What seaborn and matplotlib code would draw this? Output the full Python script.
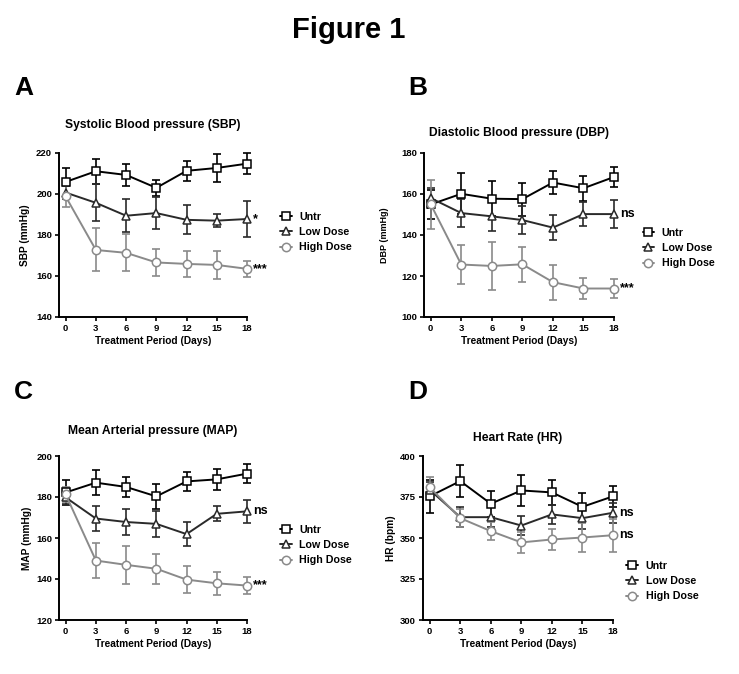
import numpy as np
import pandas as pd
import matplotlib
matplotlib.use("Agg")
import matplotlib.pyplot as plt
import seaborn as sns

# days of treatment
days = [0, 3, 6, 9, 12, 15, 18]
groups = ["Untr", "Low Dose", "High Dose"]

# SBP mean / SEM
sbp_untr = [205.9, 211.1, 209.3, 203.0, 211.3, 212.7, 214.8]
sbp_untr_err = [7, 6, 5.3, 4, 5, 7, 5]
sbp_low = [200.7, 195.7, 189.4, 190.7, 187.4, 187.0, 187.8]
sbp_low_err = [3, 9, 8, 8, 7, 3, 9]
sbp_high = [198.8, 172.7, 171.3, 166.6, 165.9, 165.4, 163.5]
sbp_high_err = [5, 10.5, 9, 6.5, 6.5, 7, 4]

# DBP mean / SEM
dbp_untr = [154.9, 160.1, 157.7, 157.5, 165.6, 162.8, 168.3]
dbp_untr_err = [7, 10, 8.5, 8, 5.5, 6, 5]
dbp_low = [158.0, 150.7, 149.1, 147.3, 143.6, 150.2, 150.2]
dbp_low_err = [5, 7, 7, 7, 6, 6, 7]
dbp_high = [155.0, 125.6, 124.9, 125.7, 117.0, 113.9, 113.9]
dbp_high_err = [12, 9.5, 11.5, 8.5, 8.5, 5, 4.5]

# MAP mean / SEM
map_untr = [182.2, 187.0, 184.9, 180.3, 187.6, 188.6, 191.4]
map_untr_err = [6, 6, 5, 6, 4.7, 5, 4.7]
map_low = [179.8, 169.5, 167.8, 166.9, 161.9, 171.8, 173.0]
map_low_err = [3, 6, 6.5, 6.5, 5.7, 3.6, 5.7]
map_high = [181.3, 149.0, 146.9, 145.0, 139.7, 137.9, 136.8]
map_high_err = [3.5, 8.7, 9.3, 7.4, 6.7, 5.5, 4]

# HR mean / SEM
hr_untr = [375.4, 384.7, 370.9, 379.0, 377.8, 369.0, 375.4]
hr_untr_err = [10, 10, 8, 9.5, 7.7, 8.5, 6.3]
hr_low = [379.4, 362.7, 362.7, 357.6, 364.4, 362.1, 365.4]
hr_low_err = [5, 6, 6, 5.6, 6, 6.6, 6]
hr_high = [380.9, 362.1, 354.2, 347.3, 349.1, 350.3, 351.7]
hr_high_err = [6, 5.5, 5.5, 6.4, 6.3, 9, 10]

colors = {"Untr": "#000000", "Low Dose": "#2a2a2a", "High Dose": "#8a8a8a"}
markers = {"Untr": "s", "Low Dose": "^", "High Dose": "o"}

sns.set_style("ticks")
plt.rcParams["font.family"] = ["Liberation Sans", "DejaVu Sans"]
plt.rcParams["font.weight"] = "bold"
plt.rcParams["axes.labelweight"] = "bold"
plt.rcParams["axes.titleweight"] = "bold"
for k in ["text.color", "axes.labelcolor", "xtick.color", "ytick.color", "axes.edgecolor"]:
    plt.rcParams[k] = "black"

fig = plt.figure(figsize=(7.39, 6.74), dpi=100)

panels = [
    dict(letter="A", title="Systolic Blood pressure (SBP)", ylabel="SBP (mmHg)",
         data=[(sbp_untr, sbp_untr_err), (sbp_low, sbp_low_err), (sbp_high, sbp_high_err)],
         ylim=(140, 220), step=20, marks=[None, "*", "***"],
         rect=[59, 153, 188, 164], pad=18, leg=(1.175, 0.518), yfs=7.3, ypad=4),
    dict(letter="B", title="Diastolic Blood pressure (DBP)", ylabel="DBP (mmHg)",
         data=[(dbp_untr, dbp_untr_err), (dbp_low, dbp_low_err), (dbp_high, dbp_high_err)],
         ylim=(100, 180), step=20, marks=[None, "ns", "***"],
         rect=[424, 153, 190, 164], pad=12, leg=(1.15, 0.42), yfs=6.5, ypad=9),
    dict(letter="C", title="Mean Arterial pressure (MAP)", ylabel="MAP (mmHg)",
         data=[(map_untr, map_untr_err), (map_low, map_low_err), (map_high, map_high_err)],
         ylim=(120, 200), step=20, marks=[None, "ns", "***"],
         rect=[59, 456, 188, 164], pad=15.5, leg=(1.175, 0.457), yfs=7.3, ypad=3),
    dict(letter="D", title="Heart Rate (HR)", ylabel="HR (bpm)",
         data=[(hr_untr, hr_untr_err), (hr_low, hr_low_err), (hr_high, hr_high_err)],
         ylim=(300, 400), step=25, marks=[None, "ns", "ns"],
         rect=[423, 456, 190, 164], pad=10.5, leg=(1.07, 0.238), yfs=7.3, ypad=3),
]

W, H = 739, 674
letter_pos = {"A": (14, 88), "B": (408, 88), "C": (14, 392), "D": (408, 392)}

for p in panels:
    x0, y0, w, h = p["rect"]
    ax = fig.add_axes([x0 / W, 1 - (y0 + h) / H, w / W, h / H])
    for g, (vals, errs), mk in zip(groups, p["data"], p["marks"]):
        c = colors[g]
        ax.errorbar(days, vals, yerr=errs, fmt="none", ecolor=c, elinewidth=1.2,
                    capsize=3, capthick=1.2, clip_on=False, zorder=2)
        sns.lineplot(x=days, y=vals, ax=ax, color=c, marker=markers[g], markersize=6,
                     markerfacecolor="white", markeredgecolor=c, markeredgewidth=1.1,
                     linewidth=1.4, label=g, clip_on=False, zorder=3)
        if mk:
            ax.text(18.6, vals[-1], mk, ha="left", va="center", fontsize=9)
    ax.set_xlim(-0.66, 18)
    ax.set_ylim(*p["ylim"])
    ax.set_xticks(days)
    ax.set_yticks(np.arange(p["ylim"][0], p["ylim"][1] + 1, p["step"]))
    ax.tick_params(labelsize=6.8, width=1.2, length=3, direction="out", pad=2)
    for lab in ax.get_xticklabels() + ax.get_yticklabels():
        lab.set_fontweight("bold")
    for s in ["left", "bottom"]:
        ax.spines[s].set_linewidth(1.4)
    sns.despine(ax=ax)
    ax.set_xlabel("Treatment Period (Days)", fontsize=7.3, labelpad=2)
    ax.set_ylabel(p["ylabel"], fontsize=p["yfs"], labelpad=p["ypad"])
    ax.set_title(p["title"], fontsize=8.7, pad=p["pad"])
    ax.legend(loc="center left", bbox_to_anchor=p["leg"], frameon=False, fontsize=7.7,
              handlelength=1.1, handletextpad=0.7, labelspacing=0.5,
              borderpad=0, borderaxespad=0)
    lx, ly = letter_pos[p["letter"]]
    fig.text(lx / W, 1 - ly / H, p["letter"], fontsize=19, fontweight="bold", va="center")

fig.text(349 / W, 1 - 30 / H, "Figure 1", ha="center", va="center", fontsize=21, fontweight="bold")

fig.savefig("out.png", dpi=100)
